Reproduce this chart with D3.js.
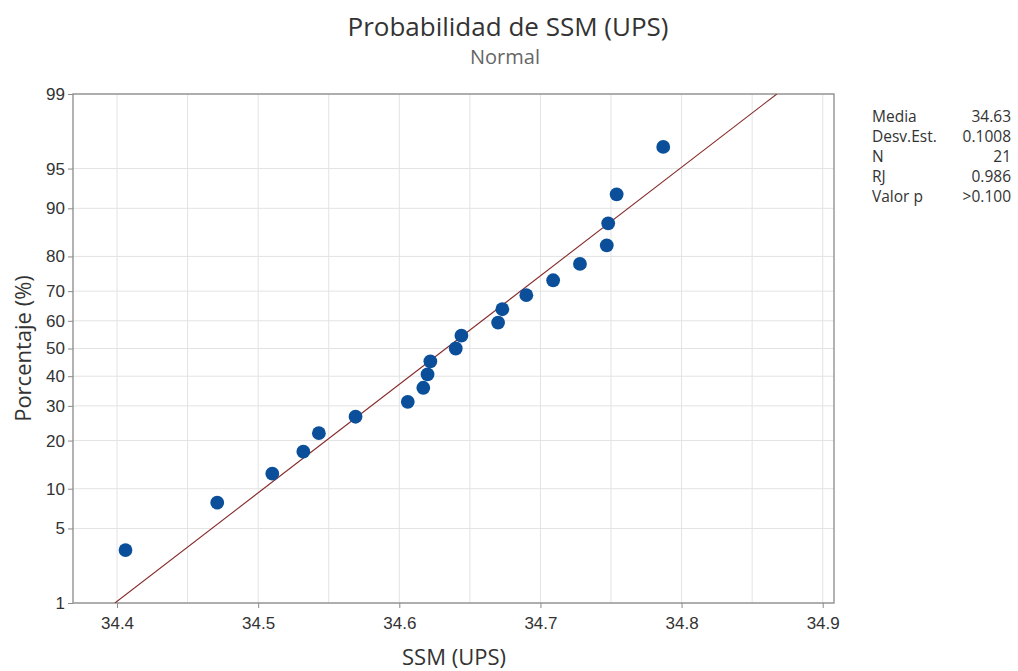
<!DOCTYPE html>
<html lang="es">
<head>
<meta charset="utf-8">
<style>
  html, body { margin:0; padding:0; background:#fff; }
  svg { font-family: "Open Sans", "Noto Sans", sans-serif; }
  .grid line { stroke:#e3e3e3; stroke-width:1px; }
  .axis path, .axis line { stroke:#8a8a8a; }
  .axis text { fill:#333; font-size:17px; }
</style>
</head>
<body>
<svg width="1018" height="671"></svg>
<script src="https://cdn.jsdelivr.net/npm/d3@7/dist/d3.min.js"></script>
<script>
// valores
var ssm = [34.406, 34.471, 34.510, 34.532, 34.543, 34.569, 34.606, 34.617, 34.620, 34.622,
           34.640, 34.644, 34.670, 34.673, 34.690, 34.709, 34.728, 34.747, 34.748, 34.754, 34.787];
var porcentaje = [3.27, 7.94, 12.62, 17.29, 21.96, 26.64, 31.31, 35.98, 40.65, 45.33,
                  50.00, 54.67, 59.35, 64.02, 68.69, 73.36, 78.04, 82.71, 87.38, 92.06, 96.73];
var xTicks = [34.4, 34.5, 34.6, 34.7, 34.8, 34.9];
var xGrid = [34.4, 34.45, 34.5, 34.55, 34.6, 34.65, 34.7, 34.75, 34.8, 34.85, 34.9];
var yTicks = [1, 5, 10, 20, 30, 40, 50, 60, 70, 80, 90, 95, 99];
var ajuste = {media: 34.633, desv: 0.1008};
var statLabels = ["Media", "Desv.Est.", "N", "RJ", "Valor p"];
var statValues = ["34.63", "0.1008", "21", "0.986", ">0.100"];

// inversa de la normal (Acklam)
function probit(p) {
    var a = [-3.969683028665376e+01, 2.209460984245205e+02, -2.759285104469687e+02, 1.383577518672690e+02, -3.066479806614716e+01, 2.506628277459239e+00];
    var b = [-5.447609879822406e+01, 1.615858368580409e+02, -1.556989798598866e+02, 6.680131188771972e+01, -1.328068155288572e+01];
    var c = [-7.784894002430293e-03, -3.223964580411365e-01, -2.400758277161838e+00, -2.549732539343734e+00, 4.374664141464968e+00, 2.938163982698783e+00];
    var d = [7.784695709041462e-03, 3.224671290700398e-01, 2.445134137142996e+00, 3.754408661907416e+00];
    var plow = 0.02425, q, r;
    if (p < plow) {
        q = Math.sqrt(-2 * Math.log(p));
        return (((((c[0]*q+c[1])*q+c[2])*q+c[3])*q+c[4])*q+c[5]) / ((((d[0]*q+d[1])*q+d[2])*q+d[3])*q+1);
    } else if (p <= 1 - plow) {
        q = p - 0.5; r = q * q;
        return (((((a[0]*r+a[1])*r+a[2])*r+a[3])*r+a[4])*r+a[5])*q / (((((b[0]*r+b[1])*r+b[2])*r+b[3])*r+b[4])*r+1);
    } else {
        q = Math.sqrt(-2 * Math.log(1 - p));
        return -(((((c[0]*q+c[1])*q+c[2])*q+c[3])*q+c[4])*q+c[5]) / ((((d[0]*q+d[1])*q+d[2])*q+d[3])*q+1);
    }
}

var svg = d3.select("svg");
var pl = 73, pr = 834, pt = 94, pb = 603;

var x = d3.scaleLinear().domain([34.3688, 34.908]).range([pl, pr]);
var yz = d3.scaleLinear().domain([probit(0.01), probit(0.99)]).range([pb, pt]);
function y(p) { return yz(probit(p / 100)); }

// rejilla
var grid = svg.append("g").attr("class", "grid");
grid.selectAll(".gx").data(xGrid).enter().append("line")
    .attr("x1", function (d) { return x(d); }).attr("x2", function (d) { return x(d); })
    .attr("y1", pt).attr("y2", pb);
grid.selectAll(".gy").data(yTicks).enter().append("line")
    .attr("x1", pl).attr("x2", pr)
    .attr("y1", function (d) { return y(d); }).attr("y2", function (d) { return y(d); });

// marco
svg.append("rect")
    .attr("x", pl).attr("y", pt)
    .attr("width", pr - pl).attr("height", pb - pt)
    .attr("fill", "none").attr("stroke", "#8a8a8a").attr("stroke-width", 1.3);

// ejes
svg.append("g").attr("class", "axis")
    .attr("transform", "translate(0," + pb + ")")
    .call(d3.axisBottom(x).tickValues(xTicks).tickSize(5).tickFormat(d3.format(".1f")))
    .call(function (g) { g.select(".domain").remove(); })
    .selectAll("text").attr("y", 10).attr("dy", "0.95em");

svg.append("g").attr("class", "axis")
    .attr("transform", "translate(" + pl + ",0)")
    .call(d3.axisLeft(yz).tickValues(yTicks.map(function (p) { return probit(p / 100); }))
        .tickSize(5).tickFormat(function (d, i) { return yTicks[i]; }))
    .call(function (g) { g.select(".domain").remove(); });

// linea de ajuste
svg.append("clipPath").attr("id", "area").append("rect")
    .attr("x", pl).attr("y", pt).attr("width", pr - pl).attr("height", pb - pt);
svg.append("line")
    .attr("clip-path", "url(#area)")
    .attr("x1", x(ajuste.media + ajuste.desv * probit(0.01))).attr("y1", y(1))
    .attr("x2", x(ajuste.media + ajuste.desv * probit(0.99))).attr("y2", y(99))
    .attr("stroke", "#862a2a").attr("stroke-width", 1.1);

// puntos
svg.selectAll(".pt").data(ssm).enter().append("circle")
    .attr("class", "pt")
    .attr("cx", function (d) { return x(d); })
    .attr("cy", function (d, i) { return y(porcentaje[i]); })
    .attr("r", 6.9)
    .attr("fill", "#0b4f9b");

// titulos
svg.append("text").attr("x", 508).attr("y", 36).attr("text-anchor", "middle")
    .attr("font-size", 26).attr("fill", "#333").text("Probabilidad de SSM (UPS)");
svg.append("text").attr("x", 505).attr("y", 64).attr("text-anchor", "middle")
    .attr("font-size", 20).attr("fill", "#666").text("Normal");
svg.append("text").attr("x", 454).attr("y", 665).attr("text-anchor", "middle")
    .attr("font-size", 22).attr("fill", "#333").text("SSM (UPS)");
svg.append("text").attr("transform", "translate(31," + ((pt + pb) / 2) + ") rotate(-90)")
    .attr("text-anchor", "middle").attr("font-size", 22).attr("fill", "#333").text("Porcentaje (%)");

// tabla de estadisticos
var stats = svg.append("g").attr("font-size", 15.5).attr("fill", "#333");
stats.selectAll(".sl").data(statLabels).enter().append("text")
    .attr("x", 872).attr("y", function (d, i) { return 122 + i * 20; }).text(function (d) { return d; });
stats.selectAll(".sv").data(statValues).enter().append("text")
    .attr("x", 1011).attr("y", function (d, i) { return 122 + i * 20; })
    .attr("text-anchor", "end").text(function (d) { return d; });
</script>
</body>
</html>
